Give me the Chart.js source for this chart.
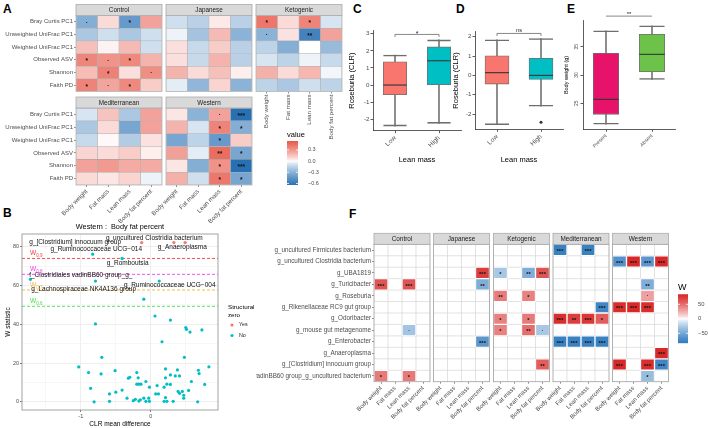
<!DOCTYPE html>
<html>
<head>
<meta charset="utf-8">
<script src="https://cdn.jsdelivr.net/npm/chart.js@4.4.1/dist/chart.umd.min.js"></script>
<style>
  html, body { margin: 0; padding: 0; background: #fff; }
  body { position: relative; width: 708px; height: 428px; overflow: hidden; }
  canvas { position: absolute; }
  .tag { position: absolute; font: bold 12px "Liberation Sans", Arial, sans-serif; color: #000; line-height: 12px; }
</style>
</head>
<body>
<div class="tag" style="left:3px;top:3px">A</div>
<div class="tag" style="left:3px;top:207px">B</div>
<div class="tag" style="left:353px;top:3px">C</div>
<div class="tag" style="left:456px;top:3px">D</div>
<div class="tag" style="left:567px;top:3px">E</div>
<div class="tag" style="left:349px;top:208px">F</div>
<script>
// ── data ──
const _ = null;
const MEASURES = ["Body weight", "Fat mass", "Lean mass", "Body fat percent"];
const DIETS    = ["Control", "Japanese", "Ketogenic", "Mediterranean", "Western"];

// A: diversity metrics vs body composition (correlation)
const A_METRICS = ["Bray Curtis PC1", "Unweighted UniFrac PC1", "Weighted UniFrac PC1", "Observed ASV", "Shannon", "Faith PD"];
const A_CONTROL = [
  [-0.32,  0.08, -0.42,  0.26],
  [-0.20, -0.10, -0.20, -0.10],
  [ 0.16,  0.02,  0.18, -0.10],
  [ 0.36,  0.31,  0.35,  0.20],
  [ 0.17,  0.38,  0.07,  0.33],
  [ 0.37,  0.25,  0.35,  0.12],
];
const A_CONTROL_SIG = [[".", "", "*", ""], ["", "", "", ""], ["", "", "", ""], ["*", ".", "*", ""], ["", "*", "", "."], ["*", ".", "*", ""]];
const A_JAPANESE = [
  [-0.10, -0.16,  0.04, -0.16],
  [-0.03, -0.22,  0.18, -0.30],
  [ 0.07, -0.12,  0.12, -0.16],
  [ 0.07, -0.12,  0.20, -0.16],
  [ 0.20,  0.08,  0.16,  0.03],
  [-0.05, -0.28,  0.10, -0.30],
];
const A_JAPANESE_SIG = [["", "", "", ""], ["", "", "", ""], ["", "", "", ""], ["", "", "", ""], ["", "", "", ""], ["", "", "", ""]];
const A_KETOGENIC = [
  [ 0.42,  0.08,  0.37, -0.08],
  [-0.30,  0.06, -0.55,  0.26],
  [-0.15, -0.32,  0.00, -0.26],
  [-0.08, -0.15, -0.03, -0.12],
  [ 0.21,  0.08,  0.19, -0.02],
  [-0.15, -0.20, -0.10, -0.15],
];
const A_KETOGENIC_SIG = [["*", "", "*", ""], [".", "", "**", ""], ["", "", "", ""], ["", "", "", ""], ["", "", "", ""], ["", "", "", ""]];
const A_MEDITERRANEAN = [
  [-0.08,  0.15, -0.20,  0.26],
  [-0.20,  0.08, -0.36,  0.26],
  [-0.12,  0.01, -0.18,  0.06],
  [ 0.10,  0.08,  0.12,  0.03],
  [ 0.26,  0.29,  0.23,  0.23],
  [ 0.08,  0.05,  0.10, -0.03],
];
const A_MEDITERRANEAN_SIG = [["", "", "", ""], ["", "", "", ""], ["", "", "", ""], ["", "", "", ""], ["", "", "", ""], ["", "", "", ""]];
const A_WESTERN = [
  [ 0.05, -0.30,  0.26, -0.66],
  [ 0.20, -0.08,  0.37, -0.32],
  [-0.36, -0.15, -0.42,  0.12],
  [ 0.27, -0.05,  0.46, -0.36],
  [ 0.05, -0.32,  0.32, -0.66],
  [ 0.21, -0.10,  0.42, -0.36],
];
const A_WESTERN_SIG = [["", "", ".", "***"], ["", "", "*", "*"], ["", "", "*", ""], ["", "", "**", "*"], ["", "", "*", "***"], ["", "", "*", "*"]];
const A_LEGEND_TICKS = [0.3, 0, -0.3, -0.6];

// B: ANCOM volcano, Western : Body fat percent
const B_NO_X = [-1.72, -0.83, -0.41, -0.79, 0.12, -0.10, 0.06, 0.28, -0.79, 0.50, 0.51, 0.56, 0.73, 0.16,
  -0.70, 0.48, -1.03, 0.83, -0.89, -0.71, -0.51, 0.21, 0.68, 0.69, -0.86, -0.32, -0.30, -0.20, -0.18,
  -0.20, -0.17, -0.14, -0.07, -0.02, 0.09, 0.11, 0.21, 0.19, 0.23, 0.28, 0.28, 0.35, 0.38, 0.41, -0.81,
  -0.59, -0.59, -0.50, -0.41, -0.34, -0.25, -0.22, -0.17, -0.15, -0.10, -0.07, -0.03, -0.02, 0.07, 0.21,
  0.19, 0.23, 0.32, 0.39, 0.41, 0.45, 0.47, 0.54, 0.47, 0.58, 0.67, 0.77];
const B_NO_W = [63.2, 76.2, 74.0, 62.3, 62.3, 53.0, 44.3, 42.2, 40.2, 38.3, 37.4, 36.0, 37.1, 31.0,
  23.0, 23.0, 18.0, 18.1, 15.1, 14.4, 16.1, 17.0, 16.3, 14.6, 7.0, 12.2, 12.7, 15.1, 12.4,
  9.1, 9.1, 9.1, 10.5, 7.6, 8.4, 4.1, 12.4, 7.6, 9.1, 13.9, 9.0, 13.4, 16.5, 13.4, 0.0,
  0.3, 4.1, 5.0, 6.1, 1.9, 0.6, 1.3, 0.4, 1.1, 1.9, 0.3, 1.9, 0.3, 4.1, 2.2,
  0.3, 0.3, 0.3, 5.4, 4.4, 5.4, 3.4, 5.9, 1.9, 10.5, 0.0, 9.0];
const B_YES_X = [-0.13, 0.33, 0.49];
const B_YES_W = [82.2, 82.2, 82.2];
const B_THRESH = [74.0, 65.8, 57.7, 49.3];
const B_THRESH_NAMES = ["0.9", "0.8", "0.7", "0.6"];
const B_TAXA   = ["g_[Clostridium] innocuum group", "g_uncultured Clostridia bacterium", "g_Ruminococcaceae UCG\u2212014",
  "g_Anaeroplasma", "g_Romboutsia", "f_Clostridiales vadinBB60 group_g_", "g_Ruminococcaceae UCG\u2212004", "g_Lachnospiraceae NK4A136 group"];
const B_TAXA_X = [-1.08, 0.05, -0.78, 0.45, -0.33, -1.0, 0.27, -0.96];
const B_TAXA_W = [82.5, 84.3, 78.6, 79.6, 71.3, 65.2, 60.0, 58.1];
const B_XGRID = [-1.5, -1, -0.5, 0, 0.5];
const B_XMAJOR = [-1, 0];
const B_YGRID = [0, 10, 20, 30, 40, 50, 60, 70, 80];

// C / D: Roseburia by lean mass
const LEAN = ["Low", "High"];
const C_Q1 = [-0.57, 0.00], C_MED = [0.00, 1.42], C_Q3 = [1.36, 2.23], C_LO = [-2.40, -2.24], C_HI = [1.75, 2.64];
const D_Q1 = [-0.45, -0.21], D_MED = [0.14, 0.00], D_Q3 = [1.01, 0.88], D_LO = [-2.55, -1.59], D_HI = [1.84, 1.91];
const D_OUT = [_, -2.42];
// E: body weight by Anaeroplasma presence
const PRESENCE = ["Present", "Absent"];
const E_Q1 = [23.06, 30.6], E_MED = [25.7, 33.65], E_Q3 = [33.84, 37.2], E_LO = [21.3, 29.2], E_HI = [37.8, 38.7];

// F: ANCOM W statistic per diet
const F_TAXA = ["g_uncultured Firmicutes bacterium", "g_uncultured Clostridia bacterium", "g_UBA1819", "g_Turicibacter",
  "g_Roseburia", "g_Rikenellaceae RC9 gut group", "g_Odoribacter", "g_mouse gut metagenome", "g_Enterobacter",
  "g_Anaeroplasma", "g_[Clostridium] innocuum group", "f_Clostridiales vadinBB60 group_g_uncultured bacterium"];
const F_CONTROL = [[_,_,_,_],[_,_,_,_],[_,_,_,_],[62,_,62,_],[_,_,_,_],[_,_,_,_],[_,_,_,_],[_,_,-30,_],[_,_,_,_],[_,_,_,_],[_,_,_,_],[45,_,45,_]];
const F_CONTROL_SIG = [[],[],[],["***","","***"],[],[],[],["","","."],[],[],[],["*","","*"]];
const F_JAPANESE = [[_,_,_,_],[_,_,_,_],[_,_,_,72],[_,_,_,-45],[_,_,_,_],[_,_,_,_],[_,_,_,_],[_,_,_,_],[_,_,_,-62],[_,_,_,_],[_,_,_,_],[_,_,_,_]];
const F_JAPANESE_SIG = [[],[],["","","","***"],["","","","**"],[],[],[],[],["","","","***"],[],[],[]];
const F_KETOGENIC = [[_,_,_,_],[_,_,_,_],[-28,_,-45,62],[_,_,_,_],[45,_,42,_],[_,_,_,_],[42,_,45,_],[42,_,50,-28],[_,_,_,_],[_,_,_,_],[_,_,_,58],[_,_,_,_]];
const F_KETOGENIC_SIG = [[],[],["*","","**","***"],[],["**","","*"],[],["*","","*"],["*","","**","."],[],[],["","","","**"],[]];
const F_MEDITERRANEAN = [[-78,_,-78,_],[_,_,_,_],[_,_,_,_],[_,_,_,_],[_,_,_,_],[_,_,_,-75],[80,72,76,58],[_,_,_,_],[-78,-78,-78,-78],[_,_,_,_],[_,_,_,_],[_,_,_,_]];
const F_MEDITERRANEAN_SIG = [["***","","***"],[],[],[],[],["","","","***"],["***","**","***","*"],[],["***","***","***","***"],[],[],[]];
const F_WESTERN = [[_,_,_,_],[-65,82,-62,82],[_,_,_,_],[_,_,-45,_],[_,_,30,_],[80,82,80,_],[_,_,_,_],[_,_,_,_],[_,_,_,_],[_,_,_,82],[82,_,80,-75],[_,_,-35,_]];
const F_WESTERN_SIG = [[],["***","***","***","***"],[],["","","**"],["","","."],["***","***","***"],[],[],[],["","","","***"],["***","","***","***"],["","","*"]];
const F_LEGEND_TICKS = [50, 0, -50];

// ── setup ──
Chart.defaults.font.family = '"Liberation Sans", Arial, sans-serif';
Chart.defaults.color = "#4D4D4D";
Chart.defaults.animation = false;
Chart.defaults.responsive = false;
Chart.defaults.events = [];
Chart.defaults.plugins.legend.display = false;
Chart.defaults.plugins.tooltip.enabled = false;

function mkCanvas(left, top, w, h) {
  const c = document.createElement("canvas");
  c.width = w; c.height = h;
  c.style.left = left + "px"; c.style.top = top + "px";
  c.style.width = w + "px"; c.style.height = h + "px";
  document.body.appendChild(c);
  return c;
}

function diverge(v, lim, lo, hi) {
  const t = Math.max(-1, Math.min(1, v / lim));
  const c = t < 0 ? lo : hi, a = Math.pow(Math.abs(t), 0.8);
  return "rgb(" + c.map(k => Math.round(255 + (k - 255) * a)).join(",") + ")";
}
const aColor = v => diverge(v, 0.65, [40, 112, 180], [228, 62, 44]);
const fColor = v => diverge(v, 85, [44, 120, 190], [214, 36, 34]);
const minus = v => (v < 0 ? "\u2212" : "") + Math.abs(v);

// ── plugins ──
const strip = {
  id: "strip",
  afterDraw(chart, args, o) {
    if (!o.text) return;
    const { ctx, chartArea: a } = chart;
    const top = a.top - o.h;
    ctx.save();
    ctx.fillStyle = "#D9D9D9";
    ctx.fillRect(a.left, top, a.right - a.left, o.h);
    ctx.strokeStyle = "#ABABAB"; ctx.lineWidth = 0.8;
    ctx.strokeRect(a.left, top, a.right - a.left, o.h);
    ctx.fillStyle = "#1A1A1A";
    ctx.font = o.size + 'px "Liberation Sans", Arial, sans-serif';
    ctx.textAlign = "center"; ctx.textBaseline = "middle";
    ctx.fillText(o.text, (a.left + a.right) / 2, top + o.h / 2 + 0.5);
    ctx.restore();
  }
};

const frame = {
  id: "frame",
  afterDatasetsDraw(chart, args, o) {
    if (!o.color) return;
    const { ctx, chartArea: a } = chart;
    ctx.save();
    ctx.strokeStyle = o.color; ctx.lineWidth = o.width || 0.8;
    ctx.strokeRect(a.left, a.top, a.right - a.left, a.bottom - a.top);
    ctx.restore();
  }
};

const cellGrid = {
  id: "cellGrid",
  beforeDatasetsDraw(chart, args, o) {
    if (!o.color) return;
    const { ctx, chartArea: a, scales: { x, y } } = chart;
    ctx.save();
    ctx.strokeStyle = o.color; ctx.lineWidth = 0.7;
    ctx.beginPath();
    for (let j = 1; j < chart.data.labels.length; j++) {
      const px = (x.getPixelForValue(j - 1) + x.getPixelForValue(j)) / 2;
      ctx.moveTo(px, a.top); ctx.lineTo(px, a.bottom);
    }
    for (let k = 1; k < chart.data.datasets.length; k++) {
      const py = y.getPixelForValue(k - 0.5);
      ctx.moveTo(a.left, py); ctx.lineTo(a.right, py);
    }
    ctx.stroke();
    ctx.restore();
  }
};

const stars = {
  id: "stars",
  afterDatasetsDraw(chart, args, o) {
    const { ctx } = chart;
    ctx.save();
    ctx.fillStyle = "#111";
    ctx.font = "bold " + (o.size || 6) + 'px "Liberation Sans", Arial, sans-serif';
    ctx.textAlign = "center"; ctx.textBaseline = "middle";
    chart.data.datasets.forEach((ds, i) => {
      if (!ds.sig) return;
      chart.getDatasetMeta(i).data.forEach((el, j) => {
        const s = ds.sig[j];
        if (!s) return;
        const dy = s === "." ? -1 : 1.6;
        ctx.fillText(s, el.x, (el.y + el.base) / 2 + dy);
      });
    });
    ctx.restore();
  }
};

// ── heatmap facet (A and F) ──
function heatPanel(o) {
  const n = o.rows.length;
  const yW = o.yW || 0, xH = o.xH || 0;
  const cl = Math.floor(o.l - yW - (yW ? 0 : (o.padL || 2)));
  const ct = Math.floor(o.t - o.stripH - 1);
  const w = Math.ceil(o.r + 1 - cl), h = Math.ceil(o.b + xH - ct);
  const cv = mkCanvas(cl, ct, w, h);
  new Chart(cv, {
    type: "bar",
    data: {
      labels: o.cols,
      datasets: o.rows.map((r, i) => ({
        data: o.cols.map((c, j) => o.vals[i][j] == null ? null : [n - 1 - i - 0.5, n - 1 - i + 0.5]),
        backgroundColor: o.vals[i].map(v => v == null ? "rgba(0,0,0,0)" : o.color(v)),
        sig: o.sig[i],
        grouped: false, barPercentage: 1, categoryPercentage: 1,
        borderColor: o.tileBorder, borderWidth: o.tileBorderW, borderSkipped: false,
      })),
    },
    options: {
      layout: { padding: { top: o.t - ct, left: o.l - yW - cl, right: cl + w - o.r, bottom: 0 } },
      scales: {
        x: {
          display: !!o.rot,
          grid: { drawOnChartArea: false, offset: false, tickLength: 2, color: "#444", lineWidth: 0.6 },
          border: { display: false },
          ticks: { minRotation: o.rot || 0, maxRotation: o.rot || 0, autoSkip: false, padding: 1, font: { size: o.xfs || o.fs }, color: "#4D4D4D" },
          afterFit: ax => { ax.height = ct + h - o.b; ax.paddingLeft = 0; ax.paddingRight = 0; },
        },
        y: {
          display: !!yW,
          min: -0.5, max: n - 0.5,
          afterBuildTicks: ax => { ax.ticks = o.rows.map((r, i) => ({ value: i })); },
          ticks: { callback: v => o.rows[n - 1 - v], autoSkip: false, padding: 1, font: { size: o.fs }, color: "#4D4D4D" },
          grid: { drawOnChartArea: false, tickLength: 2, color: "#444", lineWidth: 0.6 },
          border: { display: false },
          afterFit: ax => { ax.width = yW; ax.paddingTop = 0; ax.paddingBottom = 0; },
        },
      },
      plugins: {
        strip: { text: o.name, h: o.stripH, size: o.stripFs },
        frame: { color: o.frameColor, width: 0.8 },
        cellGrid: { color: o.gridColor },
        stars: { size: o.starFs },
      },
    },
    plugins: [cellGrid, stars, frame, strip],
  });
}

// ── colour bar legend ──
function colorBar(o) {
  const cv = mkCanvas(o.left, o.top, o.w, o.h);
  const grad = c => {
    const ch = c.chart, y = ch.scales.y;
    if (!ch.chartArea || !y) return "#fff";
    const g = ch.ctx.createLinearGradient(0, y.getPixelForValue(o.min), 0, y.getPixelForValue(o.max));
    for (let k = 0; k <= 24; k++) g.addColorStop(k / 24, o.color(o.min + (o.max - o.min) * k / 24));
    return g;
  };
  new Chart(cv, {
    type: "bar",
    data: { labels: [""], datasets: [{ data: [[o.min, o.max]], backgroundColor: grad, barPercentage: 1, categoryPercentage: 1 }] },
    options: {
      layout: { padding: { top: o.area.t - o.top, left: o.area.l - o.left, right: 0, bottom: o.top + o.h - o.area.b } },
      scales: {
        x: { display: false },
        y: {
          position: "right", min: o.min, max: o.max,
          afterBuildTicks: ax => { ax.ticks = o.ticks.map(v => ({ value: v })); },
          ticks: { callback: o.fmt, font: { size: o.fs }, color: "#4D4D4D", padding: 2 },
          grid: { display: false }, border: { display: false },
          afterFit: ax => { ax.width = o.left + o.w - o.area.r; ax.paddingTop = 0; ax.paddingBottom = 0; },
        },
      },
    },
    plugins: [{
      id: "barTitle",
      afterDraw(chart) {
        const { ctx, chartArea: a, scales: { y } } = chart;
        ctx.save();
        ctx.strokeStyle = "#fff"; ctx.lineWidth = 0.8; ctx.beginPath();
        o.ticks.forEach(v => {
          const py = y.getPixelForValue(v);
          ctx.moveTo(a.left, py); ctx.lineTo(a.left + 2, py);
          ctx.moveTo(a.right - 2, py); ctx.lineTo(a.right, py);
        });
        ctx.stroke();
        ctx.fillStyle = "#000";
        ctx.font = o.titleFs + 'px "Liberation Sans", Arial, sans-serif';
        ctx.textAlign = "left"; ctx.textBaseline = "alphabetic";
        ctx.fillText(o.title, a.left, a.top - 4);
        ctx.restore();
      }
    }],
  });
}

// ── panel A ──
const A_TABLES = [A_CONTROL, A_JAPANESE, A_KETOGENIC, A_MEDITERRANEAN, A_WESTERN];
const A_SIGS = [A_CONTROL_SIG, A_JAPANESE_SIG, A_KETOGENIC_SIG, A_MEDITERRANEAN_SIG, A_WESTERN_SIG];
const A_BOXES = [
  { l: 76,  r: 162, t: 15.5,  b: 91.5 },
  { l: 166, r: 252, t: 15.5,  b: 91.5 },
  { l: 256, r: 342, t: 15.5,  b: 91.5, rot: 90, xH: 50 },
  { l: 76,  r: 162, t: 108, b: 185, rot: 45, xH: 38 },
  { l: 166, r: 252, t: 108, b: 185, rot: 45, xH: 38, padL: 40 },
];
DIETS.forEach((d, k) => {
  const bx = A_BOXES[k];
  heatPanel(Object.assign({}, bx, {
    name: d, rows: A_METRICS, cols: MEASURES, vals: A_TABLES[k], sig: A_SIGS[k], color: aColor,
    yW: bx.l === 76 ? 76 : 0, stripH: 11, stripFs: 6.3, fs: 6, xfs: 6.2, starFs: 6.5,
    tileBorder: "rgba(120,120,120,0.45)", tileBorderW: 0.6, frameColor: "#B5B5B5",
  }));
});
colorBar({ left: 287, top: 127, w: 32, h: 60, area: { l: 287, r: 298, t: 141, b: 185 },
  min: -0.64, max: 0.54, ticks: A_LEGEND_TICKS, fmt: v => (v < 0 ? "\u2212" : "") + Math.abs(v).toFixed(1),
  color: aColor, title: "value", fs: 5.5, titleFs: 7.5 });

// ── panel B ──
const B_LINE_COLORS = ["#EF3B3B", "#F03CF0", "#F5B533", "#45E04A"];
const bDecor = {
  id: "bDecor",
  beforeDatasetsDraw(chart) {
    const { ctx, chartArea: a, scales: { y } } = chart;
    ctx.save();
    ctx.setLineDash([3, 2]); ctx.lineWidth = 0.9;
    B_THRESH.forEach((w, i) => {
      const py = y.getPixelForValue(w);
      ctx.strokeStyle = B_LINE_COLORS[i];
      ctx.beginPath(); ctx.moveTo(a.left, py); ctx.lineTo(a.right, py); ctx.stroke();
    });
    ctx.restore();
  },
  afterDatasetsDraw(chart) {
    const { ctx, chartArea: a, scales: { x, y } } = chart;
    const F = s => s + 'px "Liberation Sans", Arial, sans-serif';
    ctx.save();
    // taxa labels
    ctx.fillStyle = "#111"; ctx.font = F(6.5);
    ctx.textAlign = "center"; ctx.textBaseline = "middle";
    B_TAXA.forEach((t, i) => ctx.fillText(t, x.getPixelForValue(B_TAXA_X[i]), y.getPixelForValue(B_TAXA_W[i])));
    // threshold labels
    ctx.textAlign = "left"; ctx.textBaseline = "alphabetic";
    B_THRESH.forEach((w, i) => {
      const py = y.getPixelForValue(w);
      ctx.fillStyle = B_LINE_COLORS[i];
      ctx.font = F(6.5); ctx.fillText("W", a.left + 8, py - 3);
      const ww = ctx.measureText("W").width;
      ctx.font = F(4.5); ctx.fillText(B_THRESH_NAMES[i], a.left + 8 + ww, py - 1.5);
    });
    // frame
    ctx.strokeStyle = "#8C8C8C"; ctx.lineWidth = 0.8;
    ctx.strokeRect(a.left, a.top, a.right - a.left, a.bottom - a.top);
    // title
    ctx.fillStyle = "#000"; ctx.font = F(7.3); ctx.textAlign = "center"; ctx.textBaseline = "middle";
    ctx.fillText("Western :  Body fat percent", (a.left + a.right) / 2, a.top - 7);
    // legend
    const lx = a.right + 10;
    ctx.textAlign = "left"; ctx.font = F(6.2);
    ctx.fillText("Structural", lx, 307 - 218);
    ctx.fillText("zero", lx, 315 - 218);
    ctx.font = F(5.3);
    chart.data.datasets.forEach((ds, i) => {
      const ly = 325 + i * 10.5 - 218;
      ctx.fillStyle = ds.backgroundColor;
      ctx.beginPath(); ctx.arc(lx + 4, ly, 1.6, 0, Math.PI * 2); ctx.fill();
      ctx.fillStyle = "#1A1A1A"; ctx.fillText(ds.label, lx + 11, ly);
    });
    ctx.restore();
  }
};
{
  const cv = mkCanvas(0, 218, 262, 210);
  const isMajorX = v => B_XMAJOR.includes(v);
  const isMajorY = v => v % 20 === 0;
  new Chart(cv, {
    type: "scatter",
    data: {
      datasets: [
        { label: "Yes", data: B_YES_X.map((v, i) => ({ x: v, y: B_YES_W[i] })), backgroundColor: "#F8766D", pointRadius: 1.6, borderWidth: 0 },
        { label: "No",  data: B_NO_X.map((v, i) => ({ x: v, y: B_NO_W[i] })),  backgroundColor: "#00BFC4", pointRadius: 1.6, borderWidth: 0 },
      ],
    },
    options: {
      layout: { padding: { top: 16, right: 44, left: 0, bottom: 0 } },
      scales: {
        x: {
          type: "linear", min: -1.84, max: 0.96,
          afterBuildTicks: ax => { ax.ticks = B_XGRID.map(v => ({ value: v })); },
          ticks: { callback: v => isMajorX(v) ? String(v) : "", autoSkip: false, maxRotation: 0, padding: 1, font: { size: 5.5 }, color: "#4D4D4D" },
          grid: {
            color: c => isMajorX(c.tick.value) ? "#E6E6E6" : "#F3F3F3",
            tickColor: c => isMajorX(c.tick.value) ? "#444" : "rgba(0,0,0,0)",
            lineWidth: 0.7, tickLength: 2,
          },
          border: { display: false },
          title: { display: true, text: "CLR mean difference", font: { size: 6.5 }, color: "#000", padding: 0 },
          afterFit: ax => { ax.height = 18; ax.paddingLeft = 0; ax.paddingRight = 0; },
        },
        y: {
          min: -4.2, max: 86.6,
          afterBuildTicks: ax => { ax.ticks = B_YGRID.map(v => ({ value: v })); },
          ticks: { callback: v => isMajorY(v) ? String(v) : "", autoSkip: false, padding: 1, font: { size: 5.5 }, color: "#4D4D4D" },
          grid: {
            color: c => isMajorY(c.tick.value) ? "#E6E6E6" : "#F3F3F3",
            tickColor: c => isMajorY(c.tick.value) ? "#444" : "rgba(0,0,0,0)",
            lineWidth: 0.7, tickLength: 2,
          },
          border: { display: false },
          title: { display: true, text: "W statistic", font: { size: 6.5 }, color: "#000", padding: { top: 4, bottom: 0 } },
          afterFit: ax => { ax.width = 22; ax.paddingTop = 0; ax.paddingBottom = 0; },
        },
      },
    },
    plugins: [bDecor],
  });
}

// ── box plots (C, D, E) ──
const medians = {
  id: "medians",
  afterDatasetsDraw(chart) {
    const { ctx, scales: { y } } = chart;
    ctx.save();
    ctx.strokeStyle = "#333"; ctx.lineWidth = 1.1;
    chart.data.datasets.forEach((ds, i) => {
      if (!ds.median) return;
      chart.getDatasetMeta(i).data.forEach((el, j) => {
        const py = y.getPixelForValue(ds.median[j]);
        ctx.beginPath(); ctx.moveTo(el.x - el.width / 2, py); ctx.lineTo(el.x + el.width / 2, py); ctx.stroke();
      });
    });
    ctx.restore();
  }
};
const bracket = {
  id: "bracket",
  afterDraw(chart, args, o) {
    const { ctx, scales: { x, y } } = chart;
    const py = y.getPixelForValue(o.y), x0 = x.getPixelForValue(0), x1 = x.getPixelForValue(1);
    ctx.save();
    ctx.strokeStyle = "#555"; ctx.lineWidth = 0.7;
    ctx.beginPath();
    ctx.moveTo(x0, py + o.tip); ctx.lineTo(x0, py); ctx.lineTo(x1, py); ctx.lineTo(x1, py + o.tip);
    ctx.stroke();
    ctx.fillStyle = "#222";
    ctx.font = o.size + 'px "Liberation Sans", Arial, sans-serif';
    ctx.textAlign = "center"; ctx.textBaseline = "alphabetic";
    ctx.fillText(o.text, (x0 + x1) / 2, py - 1.5 + o.dy);
    ctx.restore();
  }
};

function boxPanel(o) {
  const cv = mkCanvas(o.left, o.top, o.w, o.h);
  const whisk = o.cats.map((c, i) => [o.lo[i], o.hi[i]]);
  new Chart(cv, {
    type: "bar",
    data: {
      labels: o.cats,
      datasets: [
        { type: "line", data: o.out || o.cats.map(() => null), showLine: false, pointRadius: 1.5, pointBackgroundColor: "#333", pointBorderWidth: 0 },
        { data: o.cats.map((c, i) => [o.q1[i], o.q3[i]]), median: o.med, backgroundColor: o.fill,
          borderColor: "#6E6E6E", borderWidth: 0.8, borderSkipped: false, barThickness: o.bw, grouped: false },
        { data: whisk, backgroundColor: "rgba(0,0,0,0)", borderColor: "#6E6E6E",
          borderWidth: { top: 0.9, bottom: 0.9, left: 0, right: 0 }, borderSkipped: false, barThickness: o.bw, grouped: false },
        { data: whisk, backgroundColor: "#6E6E6E", barThickness: 0.9, grouped: false },
      ],
    },
    options: {
      layout: { padding: { top: o.area.t - o.top, right: o.left + o.w - o.area.r, left: 0, bottom: 0 } },
      scales: {
        x: {
          grid: { drawOnChartArea: false, offset: false, tickLength: 2.5, color: "#333", lineWidth: 0.8 },
          border: { display: true, color: "#333", width: 0.8 },
          ticks: { minRotation: 45, maxRotation: 45, autoSkip: false, padding: 1, font: { size: o.xfs }, color: "#4D4D4D" },
          title: { display: !!o.xTitle, text: o.xTitle, font: { size: 7.5 }, color: "#000", padding: 0 },
          afterFit: ax => { ax.height = o.top + o.h - o.area.b; ax.paddingLeft = 0; ax.paddingRight = 0; },
        },
        y: {
          min: o.min, max: o.max,
          afterBuildTicks: ax => { ax.ticks = o.ticks.map(v => ({ value: v })); },
          ticks: { callback: v => String(v), padding: 1, font: { size: o.yfs }, color: "#4D4D4D",
                   minRotation: o.yRot || 0, crossAlign: o.yRot ? "center" : "near" },
          grid: { drawOnChartArea: false, tickLength: 2.5, color: "#333", lineWidth: 0.8 },
          border: { display: true, color: "#333", width: 0.8 },
          title: { display: true, text: o.yTitle, font: { size: o.ytfs }, color: "#000", padding: { top: 1, bottom: 1 } },
          afterFit: ax => { ax.width = o.area.l - o.left; ax.paddingTop = 0; ax.paddingBottom = 0; },
        },
      },
      plugins: { bracket: o.bracket },
    },
    plugins: [medians, bracket],
  });
}

boxPanel({ left: 346, top: 18, w: 120, h: 146, area: { l: 373, t: 30.5, r: 461, b: 130.7 },
  cats: LEAN, q1: C_Q1, med: C_MED, q3: C_Q3, lo: C_LO, hi: C_HI, fill: ["#F8766D", "#00BFC4"], bw: 23.5,
  min: -2.67, max: 3.19, ticks: [-2, -1, 0, 1, 2, 3], yTitle: "Roseburia (CLR)", xTitle: "Lean mass",
  xfs: 6.5, yfs: 6.2, ytfs: 7.5, bracket: { y: 2.96, text: "*", tip: 2.5, size: 7, dy: 3 } });

boxPanel({ left: 450, top: 18, w: 118, h: 146, area: { l: 475, t: 31.7, r: 563, b: 129.3 },
  cats: LEAN, q1: D_Q1, med: D_MED, q3: D_Q3, lo: D_LO, hi: D_HI, out: D_OUT, fill: ["#F8766D", "#00BFC4"], bw: 24,
  min: -2.79, max: 2.26, ticks: [-2, -1, 0, 1, 2], yTitle: "Roseburia (CLR)", xTitle: "Lean mass",
  xfs: 6.5, yfs: 6.2, ytfs: 7.5, bracket: { y: 2.17, text: "ns", tip: 2.5, size: 5.5, dy: 0 } });

boxPanel({ left: 562, top: 8, w: 120, h: 150, area: { l: 583, t: 20.7, r: 675, b: 129.3 },
  cats: PRESENCE, q1: E_Q1, med: E_MED, q3: E_Q3, lo: E_LO, hi: E_HI, fill: ["#E7136B", "#6DC24A"], bw: 25.5,
  min: 20.41, max: 39.59, ticks: [25, 30, 35], yTitle: "Body weight (g)", yRot: 90,
  xfs: 5, yfs: 5, ytfs: 5.5, bracket: { y: 40.4, text: "**", tip: 0, size: 6, dy: 1 } });

// ── panel F ──
const F_TABLES = [F_CONTROL, F_JAPANESE, F_KETOGENIC, F_MEDITERRANEAN, F_WESTERN];
const F_SIGS = [F_CONTROL_SIG, F_JAPANESE_SIG, F_KETOGENIC_SIG, F_MEDITERRANEAN_SIG, F_WESTERN_SIG];
const F_LEFT = [374, 433.5, 493.5, 553, 612.5];
DIETS.forEach((d, k) => {
  heatPanel({
    name: d, rows: F_TAXA, cols: MEASURES, vals: F_TABLES[k], sig: F_SIGS[k], color: fColor,
    l: F_LEFT[k], r: F_LEFT[k] + 56, t: 244.3, b: 381.7, rot: 45, xH: 44, padL: 36,
    yW: k === 0 ? 118 : 0, stripH: 11, stripFs: 6.4, fs: 6.3, xfs: 6, starFs: 5.8,
    tileBorder: "#fff", tileBorderW: 1, frameColor: "#9E9E9E", gridColor: "#D6D6D6",
  });
});
colorBar({ left: 676, top: 278, w: 32, h: 68, area: { l: 678, r: 688, t: 294.3, b: 343.3 },
  min: -84.5, max: 84.5, ticks: F_LEGEND_TICKS, fmt: v => minus(v),
  color: fColor, title: "W", fs: 5.8, titleFs: 9 });
</script>
</body>
</html>
